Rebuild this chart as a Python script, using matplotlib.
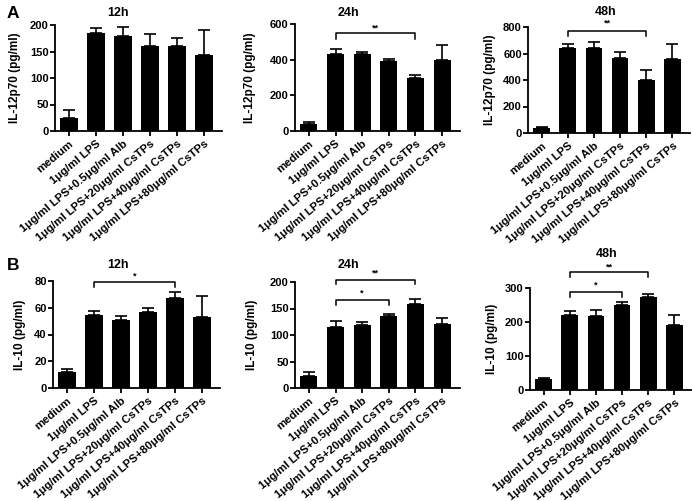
import matplotlib
matplotlib.use("Agg")
import matplotlib.pyplot as plt
import numpy as np

plt.rcParams['font.family'] = ['Liberation Sans', 'DejaVu Sans']
plt.rcParams['font.weight'] = 'bold'

groups = ["medium", "1μg/ml LPS", "1μg/ml LPS+0.5μg/ml Alb",
          "1μg/ml LPS+20μg/ml CsTPs", "1μg/ml LPS+40μg/ml CsTPs",
          "1μg/ml LPS+80μg/ml CsTPs"]

# IL-12p70
il12_12h = [25, 184, 180, 160, 160, 143]
il12_12h_err = [15, 11, 17, 23, 16, 48]
il12_24h = [40, 433, 430, 395, 297, 398]
il12_24h_err = [8, 25, 12, 10, 15, 82]
il12_48h = [40, 640, 638, 567, 402, 562]
il12_48h_err = [5, 30, 50, 42, 75, 112]

# IL-10
il10_12h = [12, 54.5, 51, 56.5, 67, 53]
il10_12h_err = [2, 3, 2.5, 3, 5, 16]
il10_24h = [23, 116, 118, 135, 158, 120]
il10_24h_err = [7, 10, 6, 4, 9, 13]
il10_48h = [33, 222, 218, 250, 275, 190]
il10_48h_err = [2, 10, 18, 10, 6, 30]

W, H = 692, 501

# (values, errors, ymax, yticks, ylabel, title, brackets, axes px box, title px pos, ylabel px x)
panels = [
    (il12_12h, il12_12h_err, 200, [0, 50, 100, 150, 200], "IL-12p70 (pg/ml)", "12h",
     [], (55, 222, 131, 25), (118, 13), 21),
    (il12_24h, il12_24h_err, 600, [0, 200, 400, 600], "IL-12p70 (pg/ml)", "24h",
     [(1, 4, 550, 516, 578, "**")], (295, 460, 131, 24), (348, 13), 256),
    (il12_48h, il12_48h_err, 800, [0, 200, 400, 600, 800], "IL-12p70 (pg/ml)", "48h",
     [(1, 4, 770, 732, 827, "**")], (528, 690, 133, 27), (606, 12), 496),
    (il10_12h, il10_12h_err, 80, [0, 20, 40, 60, 80], "IL-10 (pg/ml)", "12h",
     [(1, 4, 79.5, 75.7, 84, "*")], (53, 220, 388, 281), (118, 265), 26),
    (il10_24h, il10_24h_err, 200, [0, 50, 100, 150, 200], "IL-10 (pg/ml)", "24h",
     [(1, 3, 166, 157, 179, "*"), (1, 4, 204, 196, 217, "**")], (295, 460, 388, 282), (348, 265), 258),
    (il10_48h, il10_48h_err, 300, [0, 100, 200, 300], "IL-10 (pg/ml)", "48h",
     [(1, 3, 289, 274, 309, "*"), (1, 4, 348, 333, 362, "**")], (530, 692, 390, 288), (607, 254), 498),
]

fig = plt.figure(figsize=(W / 100, H / 100), dpi=100)
x = np.arange(len(groups))

for vals, errs, ymax, yt, ylab, title, brackets, box, tpos, ylx in panels:
    l, r, b, t = box
    ax = fig.add_axes([l / W, 1 - b / H, (r - l) / W, (b - t) / H])
    ax.bar(x, vals, width=0.64, color='black', zorder=2)
    ax.errorbar(x, vals, yerr=[np.zeros(len(errs)), errs], fmt='none',
                ecolor='black', elinewidth=1.2, capsize=4, capthick=1.2, zorder=1)
    ax.set_xlim(-0.52, 5.67)
    ax.set_ylim(0, ymax)
    ax.set_yticks(yt)
    ax.set_xticks(x)
    ax.set_xticklabels(groups, rotation=40, ha='right', rotation_mode='anchor',
                       fontsize=8.2, fontweight='bold')
    ax.tick_params(axis='y', labelsize=8, width=1.3, length=3.5, pad=1)
    ax.tick_params(axis='x', width=1.3, length=3.5, pad=2)
    for lab in ax.get_yticklabels():
        lab.set_fontweight('bold')
    for s in ['top', 'right']:
        ax.spines[s].set_visible(False)
    for s in ['left', 'bottom']:
        ax.spines[s].set_linewidth(1.3)
    ax.set_ylabel(ylab, fontsize=8.5, fontweight='bold')
    ax.yaxis.set_label_coords((ylx - l) / (r - l), 0.5)
    for i0, i1, yb, ydrop, ytxt, star in brackets:
        ax.plot([i0, i0, i1, i1], [ydrop, yb, yb, ydrop], color='black',
                lw=1.1, clip_on=False)
        ax.text((i0 + i1) / 2, ytxt, star, ha='center', va='center',
                fontsize=6.5, fontweight='bold', clip_on=False)
    fig.text(tpos[0] / W, 1 - tpos[1] / H, title, ha='center', va='center',
             fontsize=9, fontweight='bold')

fig.text(7 / W, 1 - 13 / H, "A", ha='left', va='center', fontsize=12.5, fontweight='bold')
fig.text(7 / W, 1 - 265 / H, "B", ha='left', va='center', fontsize=12.5, fontweight='bold')

fig.savefig("out.png", dpi=100)
